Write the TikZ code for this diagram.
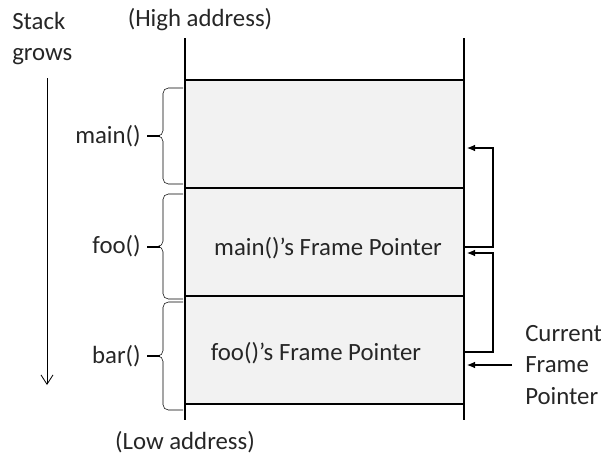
\documentclass[tikz,border=0pt]{standalone}
\usepackage{fontspec}
\setmainfont{Carlito}
\usetikzlibrary{arrows.meta, calc}
\newcommand{\callbrace}[4]{% brace for one call frame: name, top, bottom, label
  \draw [rounded corners=4pt] (183,#2) -- (163,#2) -- (163,{(#2+#3)/2}) -- (157,{(#2+#3)/2});
  \draw [rounded corners=4pt] (157,{(#2+#3)/2}) -- (163,{(#2+#3)/2}) -- (163,#3) -- (183,#3);
  \draw [line width=1.5pt] (147,{(#2+#3)/2}) -- (160,{(#2+#3)/2});
  \node (#1) [txt, anchor=east] at (141,{(#2+#3)/2}) {#4};
  }

\begin{document}
\begin{tikzpicture}[
  x=0.75pt, y=-0.75pt,
  txt/.style={
    % Font
    font=\fontsize{18.6}{23.5}\selectfont,
    text=black!85,
    inner sep=0pt
  },
  frame/.style={
    % The shape:
    rectangle,
    anchor=north west,
    % The size:
    minimum width=209.25pt,
    minimum height=81pt,
    % The border and filling:
    draw, line width=0.8pt,
    fill=gray!10,
    inner sep=0pt, outer sep=0pt
  },
  ptr/.style={-{Latex[length=6pt,width=5pt]}, line width=0.8pt},
  ]
  \useasboundingbox (0,0) rectangle (601,461);

  % the three call frames
  \node (mainframe) [frame] at (185,80) {};
  \node (fooframe) [frame] at (185,188) {};
  \node (barframe) [frame] at (185,296) {};

  % walls of the stack
  \draw [line width=1pt] (185,38) -- (185,420);
  \draw [line width=1pt] (464,38) -- (464,420);

  \node (high) [txt] at (200,20) {(High address)};
  \node (low) [txt] at (185,442) {(Low address)};

  % stack direction
  \node (grows) [txt, align=left, anchor=north west] at (12,12) {Stack\\grows};
  \coordinate (gtop) at (47,78);
  \coordinate (gbot) at (47,385);
  \draw [-{Straight Barb[length=7pt,width=9pt]}, line width=0.6pt] (gtop) -- (gbot);

  % braces
  \callbrace{mainlbl}{88}{184}{main()}
  \callbrace{foolbl}{194}{299}{foo()}
  \callbrace{barlbl}{302}{410}{bar()}

  % saved frame pointers
  \node (fpmain) [txt] at (328,248) {main()’s Frame Pointer};
  \node (fpfoo) [txt] at (316,353) {foo()’s Frame Pointer};
  \node (cfp) [txt, align=left, anchor=west] at (525,365) {Current\\Frame\\Pointer};

  \draw [ptr] ($(fooframe.east)+(0,5)$) -- ++(29,0) |- ($(mainframe.east)+(3,14)$);
  \draw [ptr] ($(barframe.east)+(0,2)$) -- ++(29,0) |- ($(fooframe.east)+(3,11)$);
  \draw [ptr] ($(cfp.west)+(-13,0)$) -- ($(barframe.east)+(3,15)$);

\end{tikzpicture}
\end{document}
